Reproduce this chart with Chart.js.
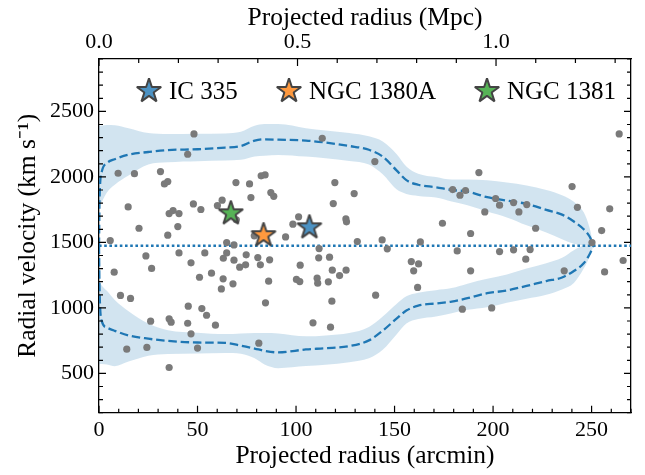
<!DOCTYPE html>
<html lang="en">
<head>
<meta charset="UTF-8">
<title>Caustic</title>
<script src="https://cdn.jsdelivr.net/npm/chart.js"></script>
<style>
    body { margin: 0; background: #fff; }
    #wrap { position: relative; width: 645px; height: 475px; }
    .legend-item {
        position: absolute;
        top: 75px;
        display: flex;
        align-items: center;
        font-family: 'Liberation Serif', 'Times New Roman', serif;
        font-size: 25px;
        color: #000;
        white-space: nowrap;
    }
    .legend-item img { margin-right: 4px; }
</style>
</head>
<body>
<div id="wrap">
    <canvas id="chart" width="645" height="475"></canvas>
</div>

<script>
// member galaxies: projected radius (arcmin), radial velocity (km/s)
const memberR = [
    48.2, 45.0, 9.7, 18.0, 31.2, 33.2, 34.9, 69.5, 76.4, 82.3, 84.3, 77.1, 87.2, 88.7,
    14.8, 47.9, 51.7, 35.6, 37.6, 40.6, 62.5, 60.1, 69.7, 20.3, 40.0, 34.9, 5.7, 64.8,
    68.5, 78.8, 23.8, 40.6, 53.7, 64.8, 63.1, 68.5, 74.7, 80.6, 86.6, 74.4, 71.4, 81.9,
    7.7, 26.7, 46.7, 51.0, 57.1, 63.0, 68.0, 62.1, 86.1, 10.9, 16.0, 45.3, 52.2, 54.6,
    84.5, 26.2, 35.6, 36.6, 45.0, 59.1, 46.7, 81.1, 14.1, 24.3, 50.0, 35.6,
    113.3, 140.0, 119.7, 129.5, 118.9, 101.3, 98.4, 125.3, 125.6, 94.7, 131.1, 143.7,
    146.3, 163.1, 174.3, 111.7, 111.5, 117.0, 102.1, 118.4, 122.1, 125.4, 100.2, 101.9,
    110.7, 111.0, 116.4, 158.5, 162.2, 159.7, 161.7, 140.4, 118.2, 108.6, 117.5,
    179.5, 186.0, 183.2, 192.8, 195.8, 201.3, 203.3, 210.4, 213.1, 217.1, 221.6, 188.6,
    181.8, 203.3, 210.4, 218.8, 216.6, 188.6, 236.1, 240.1, 242.8, 250.2, 255.1, 259.2,
    264.0, 256.6, 266.0, 184.4, 199.3
];
const memberV = [
    2328, 2173, 2028, 2025, 2041, 1946, 1964, 1957, 1946, 2008, 2015, 1842, 1880, 1852,
    1771, 1794, 1751, 1720, 1743, 1720, 1822, 1781, 1672, 1608, 1621, 1555, 1514, 1499,
    1481, 1550, 1397, 1420, 1420, 1420, 1379, 1364, 1405, 1384, 1367, 1329, 1311, 1329,
    1273, 1301, 1344, 1234, 1265, 1222, 1184, 1145, 1204, 1095, 1072, 1013, 995, 944,
    1039, 899, 917, 891, 883, 868, 802, 731, 685, 698, 693, 545,
    2295, 2117, 1957, 1873, 1796, 1695, 1639, 1679, 1657, 1542, 1506, 1519,
    1451, 1504, 1646, 1453, 1382, 1387, 1326, 1288, 1247, 1288, 1217, 1201,
    1227, 1189, 1199, 1354, 1336, 1283, 1156, 1097, 1051, 886, 853,
    1903, 1896, 1860, 2033, 1733, 1835, 1784, 1804, 1733, 1789, 1608, 1568,
    1435, 1430, 1443, 1445, 1372, 1283, 1283, 1926, 1768, 1499, 1590, 1756,
    2328, 1275, 1362, 990, 1000
];

// highlighted galaxies
const galaxyNames = ['IC 335', 'NGC 1380A', 'NGC 1381'];
const galaxyR = [106.8, 83.5, 66.9];
const galaxyV = [1615, 1555, 1722];
const galaxyColors = ['#4c92c3', '#ff993e', '#56b356'];

// mean cluster velocity
const vMean = 1475;

// caustic profile and its uncertainty band
const caustR = [0, 0.3, 1.5, 4, 8, 15, 25, 35, 50, 64, 72, 79, 84, 91, 105, 115, 127, 137,
    144, 151, 156, 162, 171, 179, 187, 197, 207, 217, 227, 235, 241, 246, 249, 251];
const caustUpper = [1475, 1850, 2045, 2105, 2135, 2170, 2190, 2205, 2211, 2224, 2236, 2277,
    2287, 2284, 2277, 2262, 2236, 2207, 2155, 2050, 1975, 1940, 1921, 1900, 1888, 1845, 1819,
    1794, 1748, 1712, 1659, 1600, 1545, 1475];
const caustLower = [1475, 1120, 895, 850, 825, 790, 765, 748, 736, 733, 712, 690, 672, 660,
    683, 692, 708, 752, 826, 918, 980, 1017, 1034, 1048, 1074, 1112, 1133, 1168, 1205, 1232,
    1282, 1340, 1410, 1475];
const bandUpperHi = [2390, 2390, 2392, 2397, 2395, 2372, 2335, 2328, 2330, 2332, 2345, 2390,
    2403, 2403, 2372, 2355, 2335, 2310, 2270, 2175, 2080, 2025, 2000, 1980, 1980, 1975, 1958,
    1935, 1900, 1860, 1810, 1730, 1610, 1475];
const bandUpperLo = [1760, 1775, 1810, 1880, 1940, 2010, 2095, 2112, 2120, 2126, 2130, 2155,
    2162, 2168, 2155, 2142, 2122, 2095, 2020, 1905, 1870, 1855, 1842, 1812, 1783, 1735, 1690,
    1630, 1575, 1525, 1490, 1476, 1475, 1475];
const bandLowerHi = [1214, 1200, 1170, 1130, 1060, 975, 880, 830, 810, 800, 805, 808, 808, 805,
    783, 790, 808, 855, 935, 1030, 1088, 1115, 1135, 1151, 1185, 1222, 1255, 1300, 1340, 1382,
    1440, 1474, 1475, 1475];
const bandLowerLo = [568, 570, 572, 568, 555, 590, 635, 648, 652, 655, 650, 615, 568, 540, 556,
    566, 585, 615, 680, 797, 880, 915, 935, 960, 985, 1005, 1040, 1070, 1100, 1140, 1190, 1300,
    1390, 1475];

// axes
const rMax = 270;
const vMin = 200, vMax = 2900;
const arcminPerMpc = 201.5;

const FONT = "'Liberation Serif', 'Times New Roman', serif";
const BLUE = '#1f77b4';
const BAND = 'rgba(31, 119, 180, 0.2)';

function pts(xs, ys) {
    return xs.map((x, i) => ({x: x, y: ys[i]}));
}

// five-pointed star marker, like matplotlib's '*'
function makeStar(fill) {
    const c = document.createElement('canvas');
    c.width = 32;
    c.height = 32;
    const g = c.getContext('2d');
    const R = 12.8, r = R * 0.381966;
    g.beginPath();
    for (let i = 0; i < 10; i++) {
        const rad = i % 2 === 0 ? R : r;
        const a = -Math.PI / 2 + i * Math.PI / 5;
        const px = 16 + rad * Math.cos(a), py = 16 + rad * Math.sin(a);
        if (i === 0) g.moveTo(px, py); else g.lineTo(px, py);
    }
    g.closePath();
    g.fillStyle = fill;
    g.fill();
    g.lineJoin = 'bevel';
    g.lineWidth = 2;
    g.strokeStyle = '#444';
    g.stroke();
    return c;
}

// matplotlib-style inward tick marks on all four sides
const inwardTicks = {
    id: 'inwardTicks',
    afterDraw(chart) {
        const {ctx, chartArea: a, scales} = chart;
        ctx.save();
        ctx.strokeStyle = '#000';
        ctx.lineWidth = 1.2;
        ctx.beginPath();
        scales.x.ticks.forEach(t => {
            const p = scales.x.getPixelForValue(t.value);
            const len = t.value % 50 === 0 ? 7 : 4;
            ctx.moveTo(p, a.bottom);
            ctx.lineTo(p, a.bottom - len);
        });
        scales.x2.ticks.forEach(t => {
            const p = scales.x2.getPixelForValue(t.value);
            const major = Math.abs(t.value * 2 - Math.round(t.value * 2)) < 1e-6;
            ctx.moveTo(p, a.top);
            ctx.lineTo(p, a.top + (major ? 7 : 4));
        });
        scales.y.ticks.forEach(t => {
            const p = scales.y.getPixelForValue(t.value);
            const len = t.value % 500 === 0 ? 7 : 4;
            ctx.moveTo(a.left, p);
            ctx.lineTo(a.left + len, p);
            ctx.moveTo(a.right, p);
            ctx.lineTo(a.right - len, p);
        });
        ctx.stroke();
        ctx.restore();
    }
};

Chart.defaults.font.family = FONT;
Chart.defaults.color = '#000';

const tickFont = {family: FONT, size: 22};
const titleFont = {family: FONT, size: 25.5};
const border = {display: true, color: '#000', width: 1.3};

const datasets = galaxyNames.map((name, i) => ({
    label: name,
    type: 'scatter',
    data: [{x: galaxyR[i], y: galaxyV[i]}],
    pointStyle: makeStar(galaxyColors[i]),
    pointRadius: 13
}));

datasets.push(
    {
        label: 'members',
        type: 'scatter',
        data: pts(memberR, memberV),
        backgroundColor: '#7a7a7a',
        borderWidth: 0,
        pointRadius: 3.6
    },
    {
        label: 'mean',
        type: 'line',
        data: [{x: 0, y: vMean}, {x: rMax, y: vMean}],
        borderColor: BLUE,
        borderWidth: 2.4,
        borderDash: [2.6, 2.6],
        pointRadius: 0,
        fill: false
    },
    {
        label: 'caustic upper',
        type: 'line',
        data: pts(caustR, caustUpper),
        borderColor: BLUE,
        borderWidth: 2.3,
        borderDash: [8.5, 3.8],
        cubicInterpolationMode: 'monotone',
        pointRadius: 0,
        fill: false
    },
    {
        label: 'caustic lower',
        type: 'line',
        data: pts(caustR, caustLower),
        borderColor: BLUE,
        borderWidth: 2.3,
        borderDash: [8.5, 3.8],
        cubicInterpolationMode: 'monotone',
        pointRadius: 0,
        fill: false
    },
    {
        label: 'band upper hi',
        type: 'line',
        data: pts(caustR, bandUpperHi),
        borderWidth: 0,
        backgroundColor: BAND,
        cubicInterpolationMode: 'monotone',
        pointRadius: 0,
        fill: '+1'
    },
    {
        label: 'band upper lo',
        type: 'line',
        data: pts(caustR, bandUpperLo),
        borderWidth: 0,
        cubicInterpolationMode: 'monotone',
        pointRadius: 0,
        fill: false
    },
    {
        label: 'band lower hi',
        type: 'line',
        data: pts(caustR, bandLowerHi),
        borderWidth: 0,
        backgroundColor: BAND,
        cubicInterpolationMode: 'monotone',
        pointRadius: 0,
        fill: '+1'
    },
    {
        label: 'band lower lo',
        type: 'line',
        data: pts(caustR, bandLowerLo),
        borderWidth: 0,
        cubicInterpolationMode: 'monotone',
        pointRadius: 0,
        fill: false
    }
);

new Chart(document.getElementById('chart'), {
    type: 'scatter',
    data: {datasets: datasets},
    plugins: [inwardTicks],
    options: {
        responsive: false,
        animation: false,
        devicePixelRatio: 1,
        layout: {padding: 0},
        plugins: {
            legend: {display: false},
            tooltip: {enabled: false},
            filler: {drawTime: 'beforeDatasetsDraw'}
        },
        scales: {
            x: {
                type: 'linear',
                position: 'bottom',
                min: 0,
                max: rMax,
                grid: {display: false, drawTicks: false},
                border: border,
                ticks: {
                    stepSize: 10,
                    autoSkip: false,
                    maxRotation: 0,
                    padding: 4,
                    font: tickFont,
                    callback: v => (v % 50 === 0 ? String(v) : '')
                },
                title: {display: true, text: 'Projected radius (arcmin)', font: titleFont,
                        padding: {top: 0, bottom: 3.5}},
                afterFit: s => { s.height = 62.3; }
            },
            x2: {
                type: 'linear',
                position: 'top',
                min: 0,
                max: rMax / arcminPerMpc,
                grid: {display: false, drawTicks: false},
                border: border,
                ticks: {
                    stepSize: 0.1,
                    includeBounds: false,
                    autoSkip: false,
                    maxRotation: 0,
                    padding: 4,
                    font: tickFont,
                    callback: v => (Math.abs(v * 2 - Math.round(v * 2)) < 1e-6 ? v.toFixed(1) : '')
                },
                title: {display: true, text: 'Projected radius (Mpc)', font: titleFont,
                        padding: {top: 2.5, bottom: 0}},
                afterFit: s => { s.height = 59; }
            },
            y: {
                type: 'linear',
                position: 'left',
                min: vMin,
                max: vMax,
                grid: {display: false, drawTicks: false},
                border: border,
                ticks: {
                    stepSize: 100,
                    autoSkip: false,
                    padding: 5,
                    font: tickFont,
                    callback: v => (v % 500 === 0 ? String(v) : '')
                },
                title: {display: true, text: 'Radial velocity (km s\u207B\u00B9)', font: titleFont,
                        padding: {top: 13, bottom: 0}},
                afterFit: s => { s.width = 99; }
            },
            y2: {
                type: 'linear',
                position: 'right',
                min: vMin,
                max: vMax,
                grid: {display: false, drawTicks: false},
                border: border,
                ticks: {display: false},
                afterFit: s => { s.width = 10; }
            }
        }
    }
});

// legend inside the plot, top row
const legendLeft = [133, 273, 471];
const wrap = document.getElementById('wrap');
galaxyNames.forEach((name, i) => {
    const item = document.createElement('div');
    item.className = 'legend-item';
    item.style.left = legendLeft[i] + 'px';
    const img = document.createElement('img');
    img.src = makeStar(galaxyColors[i]).toDataURL();
    img.width = 32;
    img.height = 32;
    item.appendChild(img);
    const txt = document.createElement('span');
    txt.textContent = name;
    item.appendChild(txt);
    wrap.appendChild(item);
});
</script>
</body>
</html>
